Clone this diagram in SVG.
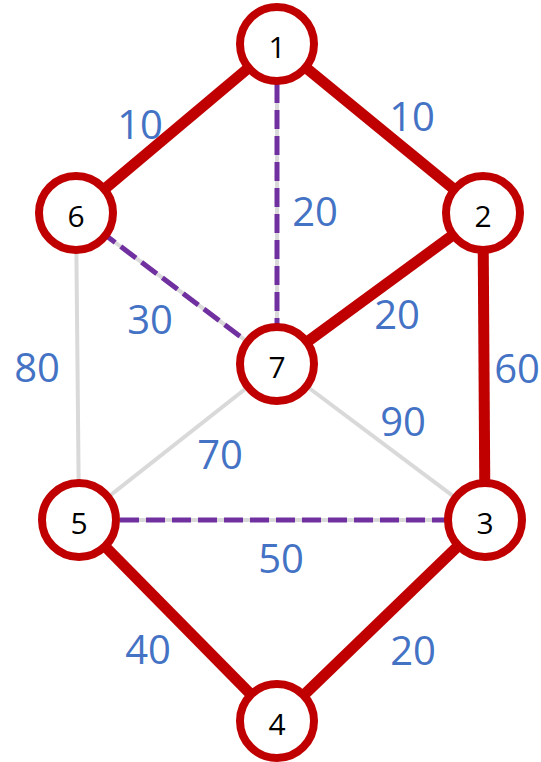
<svg xmlns="http://www.w3.org/2000/svg" width="541" height="762" viewBox="0 0 541 762">
<style>
.red{stroke:#C00000;stroke-width:11;fill:none}
.gray{stroke:#D9D9D9;stroke-width:4;fill:none}
.dash{stroke:#7030A0;stroke-width:5;stroke-dasharray:19 7;fill:none}
.node circle{fill:#FFFFFF;stroke:#C00000;stroke-width:8}
.node text{font-family:"Open Sans","Liberation Sans",sans-serif;font-size:30px;fill:#000;text-anchor:middle;dominant-baseline:central}
.lbl{font-family:"Open Sans","Liberation Sans",sans-serif;font-size:40px;fill:#4472C4;text-anchor:middle;dominant-baseline:central}
</style>
<rect width="541" height="762" fill="#FFFFFF"/>
<g id="connectors">
<line class="red" x1="277" y1="44" x2="76" y2="213"/>
<line class="red" x1="277" y1="44" x2="483" y2="213"/>
<line class="gray" x1="277" y1="44" x2="277" y2="364"/>
<line class="dash" x1="277" y1="84" x2="277" y2="364"/>
<line class="gray" x1="76" y1="213" x2="277" y2="364"/>
<line class="dash" x1="100" y1="231" x2="277" y2="364"/>
<line class="red" x1="483" y1="213" x2="277" y2="364"/>
<line class="red" x1="483" y1="213" x2="485" y2="520"/>
<line class="gray" x1="76" y1="213" x2="79" y2="520"/>
<line class="gray" x1="277" y1="364" x2="79" y2="520"/>
<line class="gray" x1="277" y1="364" x2="485" y2="520"/>
<line class="gray" x1="79" y1="520" x2="485" y2="520"/>
<line class="dash" x1="120" y1="520" x2="485" y2="520"/>
<line class="red" x1="79" y1="520" x2="277" y2="721"/>
<line class="red" x1="485" y1="520" x2="277" y2="721"/>
</g>
<g id="labels">
<text class="lbl" x="140" y="123">10</text>
<text class="lbl" x="412" y="115">10</text>
<text class="lbl" x="315" y="210">20</text>
<text class="lbl" x="150" y="318">30</text>
<text class="lbl" x="397" y="313">20</text>
<text class="lbl" x="37" y="366">80</text>
<text class="lbl" x="517" y="367">60</text>
<text class="lbl" x="403" y="420">90</text>
<text class="lbl" x="220" y="453">70</text>
<text class="lbl" x="281" y="557">50</text>
<text class="lbl" x="148" y="648">40</text>
<text class="lbl" x="413" y="649">20</text>
</g>
<g id="node1" class="node"><circle cx="277" cy="44" r="37"/><text x="277" y="46">1</text></g>
<g id="node2" class="node"><circle cx="483" cy="213" r="37"/><text x="483" y="215">2</text></g>
<g id="node3" class="node"><circle cx="485" cy="520" r="37"/><text x="485" y="522">3</text></g>
<g id="node4" class="node"><circle cx="277" cy="721" r="37"/><text x="277" y="723">4</text></g>
<g id="node5" class="node"><circle cx="79" cy="520" r="37"/><text x="79" y="522">5</text></g>
<g id="node6" class="node"><circle cx="76" cy="213" r="37"/><text x="76" y="215">6</text></g>
<g id="node7" class="node"><circle cx="277" cy="364" r="37"/><text x="277" y="366">7</text></g>
</svg>
